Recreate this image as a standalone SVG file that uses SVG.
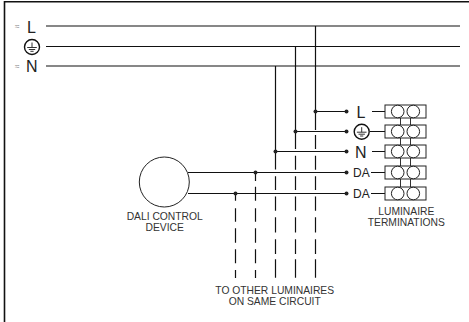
<svg xmlns="http://www.w3.org/2000/svg" width="469" height="322" viewBox="0 0 469 322">
<style>
.w{stroke:#111;stroke-width:1.2;fill:none}
.g{stroke:#333;stroke-width:1;fill:none}
.c{stroke:#222;stroke-width:1;fill:#fff}
.t{font-family:"Liberation Sans",Arial,sans-serif;fill:#222}
.big{font-size:16px}
.mid{font-size:12px}
.sm{font-size:10.3px;text-anchor:middle;fill:#333}
.tilde{font-size:8px;fill:#888}
</style>
<defs>
<path id="dash-long" class="w" d="M0 155.700V169.700M0 176.300V190M0 196.500V210.700M0 217.300V232.500M0 239.300V254M0 259.300V277.700"/>
<path id="dash-short" class="w" d="M0 208.300V221.700M0 228.300V242.700M0 249.300V263.300M0 270V278"/>
<g id="earth"><circle cx="0" cy="0" r="7.5" fill="#fff" stroke="#111" stroke-width="1.4"/><path class="g" d="M0-4.500V0.500M-4.800 0.500H4.800M-3.200 2.500H3.200M-1.600 4.300H1.600"/></g>
<g id="block"><rect class="c" x="0" y="0" width="41" height="13"/><circle class="c" cx="12.700" cy="6.500" r="6.300"/><circle class="c" cx="28.300" cy="6.500" r="6.300"/></g>
</defs>
<path d="M4.500 322V1.700H469" fill="none" stroke="#111" stroke-width="1.6"/>
<g id="connectors">
<path class="w" d="M46 26H460M46 46.500H460M46 66H460"/>
<path class="w" d="M315.500 26V130M315.500 135V149M295.500 46.500V149M275.500 66V169.500M255.500 172.500V181M255.500 186.700V200.700M235.500 193.500V200.700"/>
<use href="#dash-long" x="315.500"/><use href="#dash-long" x="295.500"/>
<path class="w" d="M275.500 176.300V190M275.500 196.500V210.700M275.500 217.300V232.500M275.500 239.300V254M275.500 259.300V277.700"/>
<use href="#dash-short" x="255.500"/><use href="#dash-short" x="235.500"/>
<path class="w" d="M315.500 111.500H346M295.500 131.500H346M275.500 151.500H346"/>
<path class="w" d="M188 172.500H346M188 193.500H346"/>
<path class="w" d="M372 111.500H385M370 131.500H385M372 151.500H385M371 172.500H385M371 193.500H385"/>
<path class="g" d="M400.500 117V198M410.500 117V198"/>
<g fill="#222"><circle cx="315.500" cy="111.500" r="2"/><circle cx="295.500" cy="131.500" r="2"/><circle cx="275.500" cy="151.500" r="2"/><circle cx="255.500" cy="172.500" r="2"/><circle cx="235.500" cy="193.500" r="2"/><circle cx="346.500" cy="111.500" r="2"/><circle cx="346.500" cy="131.500" r="2"/><circle cx="346.500" cy="151.500" r="2"/><circle cx="346.500" cy="172.500" r="2"/><circle cx="346.500" cy="193.500" r="2"/></g>
</g>
<g id="supply-labels">
<text class="t tilde" x="15" y="29">≈</text><text class="t big" x="27" y="32.500">L</text>
<use href="#earth" x="32" y="47"/>
<text class="t tilde" x="15" y="69">≈</text><text class="t big" x="26" y="72">N</text>
</g>
<g id="control-device"><circle cx="164.300" cy="182" r="25" class="c"/>
<text class="t sm" x="164.700" y="220">DALI CONTROL</text><text class="t sm" x="164.700" y="230.500">DEVICE</text></g>
<g id="terminal-labels">
<text class="t big" x="356.500" y="117.500">L</text><use href="#earth" x="361.700" y="131.700"/>
<text class="t big" x="355" y="157.500">N</text>
<text class="t mid" x="353" y="176.500">DA</text><text class="t mid" x="353" y="198">DA</text>
</g>
<g id="terminations">
<use href="#block" x="385" y="105"/><use href="#block" x="385" y="125"/><use href="#block" x="385" y="145"/><use href="#block" x="385" y="166"/><use href="#block" x="385" y="187"/>
<text class="t sm" x="406.300" y="215">LUMINAIRE</text><text class="t sm" x="406.300" y="225.500">TERMINATIONS</text>
</g>
<g id="note"><text class="t sm" x="274.700" y="294">TO OTHER LUMINAIRES</text><text class="t sm" x="274.700" y="304.500">ON SAME CIRCUIT</text></g>
</svg>
